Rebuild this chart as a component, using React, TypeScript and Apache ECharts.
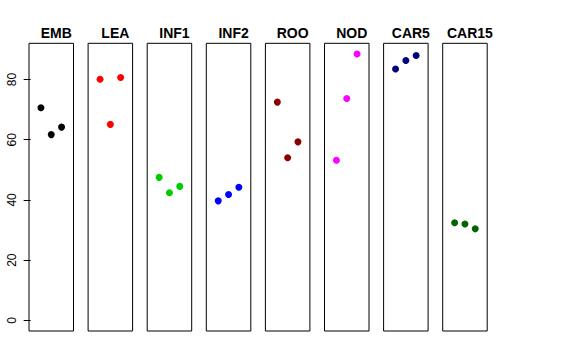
import React, { useEffect, useRef } from "react";
import * as echarts from "echarts";

const panels = ["EMB", "LEA", "INF1", "INF2", "ROO", "NOD", "CAR5", "CAR15"];
const colors = ["#000000", "#FF0000", "#00CD00", "#0000FF", "#8B0000", "#FF00FF", "#000080", "#006400"];
const values: number[][] = [
  [70.6, 61.7, 64.2],
  [80.1, 65.1, 80.7],
  [47.5, 42.4, 44.5],
  [39.7, 41.8, 44.2],
  [72.5, 54.0, 59.3],
  [53.2, 73.7, 88.5],
  [83.5, 86.3, 88.0],
  [32.4, 32.0, 30.4],
];
const yTicks = [0, 20, 40, 60, 80];
const xPositions = [1, 2, 3];

export default function App() {
  const ref = useRef<HTMLDivElement>(null);
  useEffect(() => {
    if (!ref.current) return;
    const chart = echarts.init(ref.current, null, { renderer: "svg" });
    const yLo = 0;
    const yHi = Math.max(...values.flat());
    const yExt = (yHi - yLo) * 0.04;
    const xLo = 0, xHi = 4;
    const xExt = (xHi - xLo) * 0.04;
    const left0 = 29, step = 59.1, w = 44.5, top = 43.3, h = 287.7;
    const font = "Liberation Sans, Arial, Helvetica, sans-serif";
    const grids = panels.map((_, i) => ({
      left: left0 + step * i,
      top,
      width: w,
      height: h,
      show: true,
      borderColor: "#000",
      borderWidth: 1,
      backgroundColor: "transparent",
      containLabel: false,
    }));
    const xAxes = panels.map((_, i) => ({
      type: "value",
      gridIndex: i,
      min: xLo - xExt,
      max: xHi + xExt,
      show: false,
    }));
    const yAxes = panels.map((_, i) => ({
      type: "value",
      gridIndex: i,
      min: yLo - yExt,
      max: yHi + yExt,
      show: i === 0,
      splitLine: { show: false },
      axisLine: { show: false },
      axisTick: {
        show: i === 0,
        customValues: yTicks,
        length: 7,
        lineStyle: { color: "#000" },
      },
      axisLabel: {
        show: i === 0,
        customValues: yTicks,
        rotate: 90,
        margin: 11,
        color: "#000",
        fontSize: 12,
        fontFamily: font,
      },
    }));
    const titles = panels.map((name, i) => ({
      text: name,
      left: left0 + step * i + w / 2,
      top: 21,
      textAlign: "center",
      textStyle: { fontSize: 14, fontWeight: "bold", color: "#000", fontFamily: font },
    }));
    const series = panels.map((name, i) => ({
      type: "scatter",
      name,
      xAxisIndex: i,
      yAxisIndex: i,
      symbol: "circle",
      symbolSize: 7,
      itemStyle: { color: colors[i], opacity: 1 },
      emphasis: { disabled: true },
      data: values[i].map((v, j) => [xPositions[j], v]),
    }));
    chart.setOption({
      animation: false,
      backgroundColor: "#fff",
      title: titles,
      grid: grids,
      xAxis: xAxes,
      yAxis: yAxes,
      series,
    });
    return () => chart.dispose();
  }, []);
  return <div ref={ref} style={{ width: 576, height: 360, position: "absolute", left: 0, top: 0 }} />;
}
